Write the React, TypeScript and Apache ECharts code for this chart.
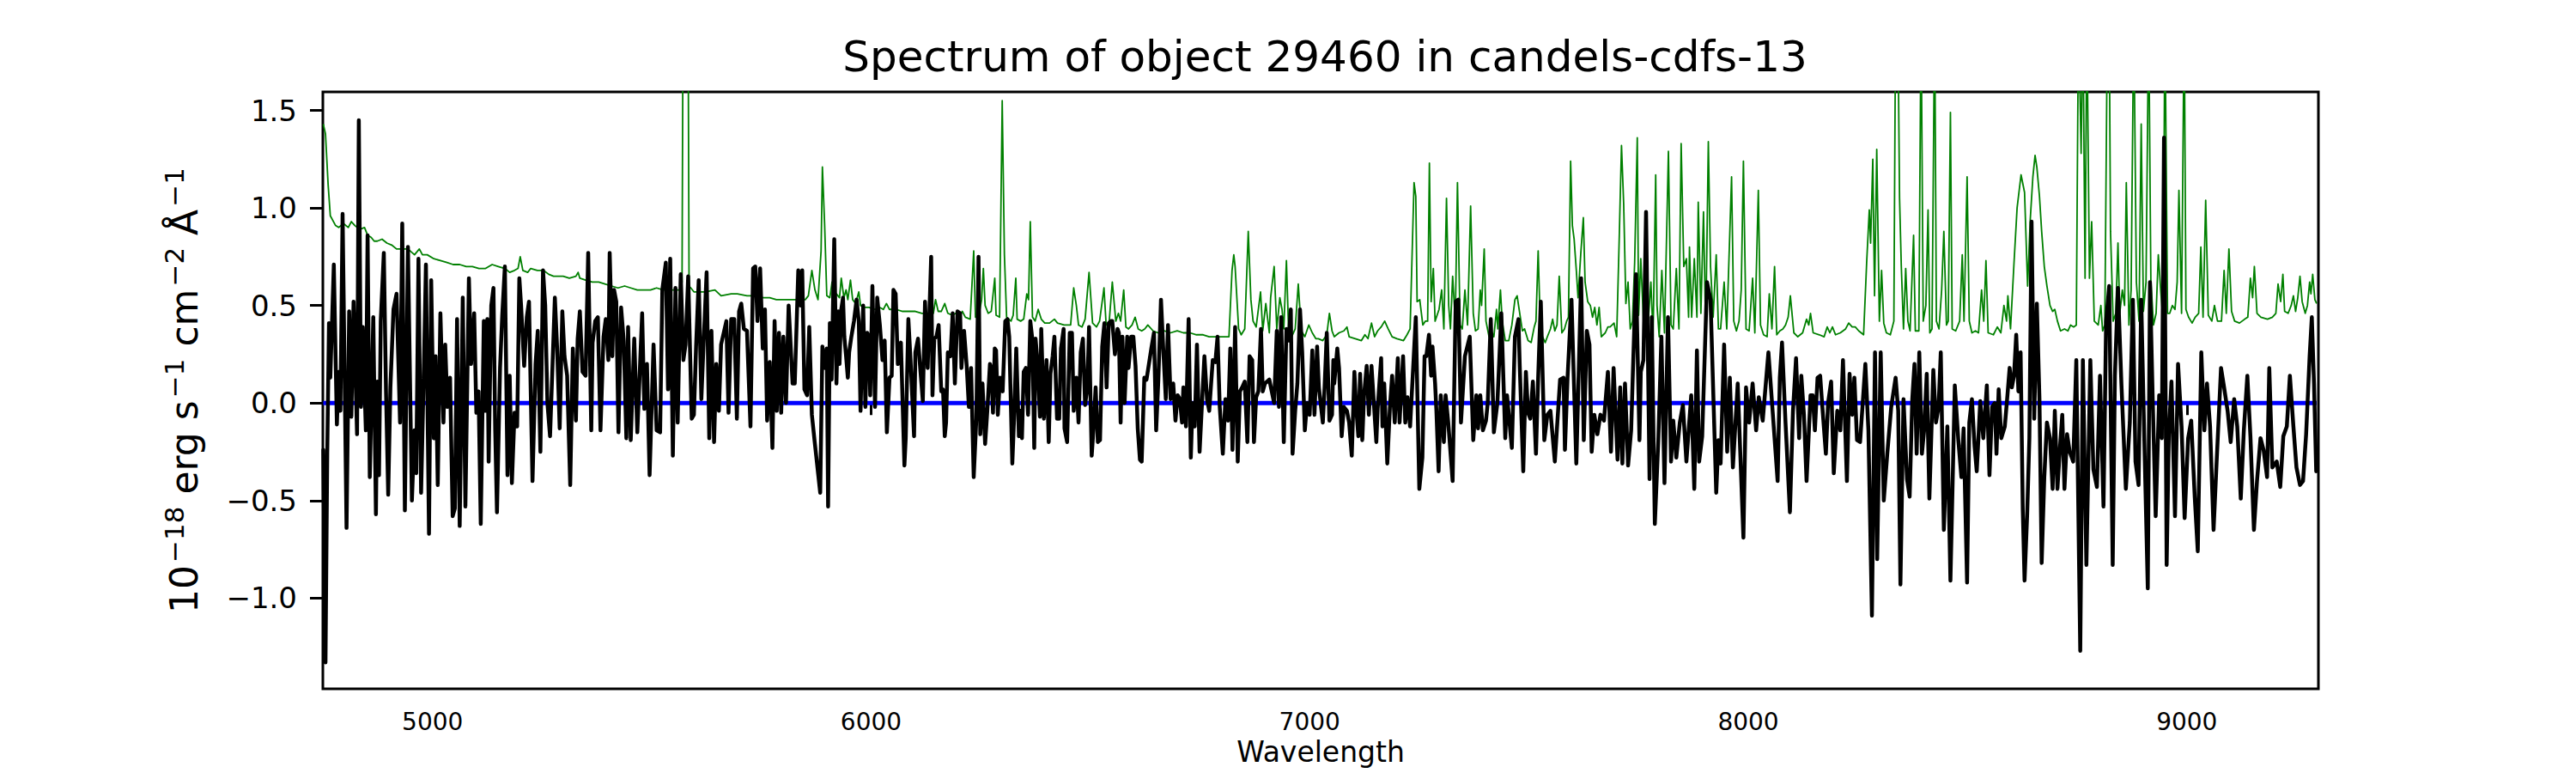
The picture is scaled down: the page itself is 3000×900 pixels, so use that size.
import React, { useEffect, useRef } from "react";
import * as echarts from "echarts";

const titleText = "Spectrum of object 29460 in candels-cdfs-13";
const xName = "Wavelength";
const yNameParts = ["10", "\u221218", " erg s", "\u22121", " cm", "\u22122", " \u00C5", "\u22121"];
const xTicks = [5000, 6000, 7000, 8000, 9000];
const yTicks = [-1.0, -0.5, 0.0, 0.5, 1.0, 1.5];
const xRange = [4750, 9300];
const yRange = [-1.465, 1.595];
const zeroLevel: [number, number][] = [[4751, 0], [9296, 0]];

const fluxA: [number, number][] = [
[4751,-0.24],[4756,-1.33],[4760,-0.26],[4764,0.41],[4767,0.13],[4775,0.71],[4782,-0.11],[4786,0.16],[4790,-0.04],[4795,0.97],[4804,-0.64],[4810,0.47],[4815,-0.07],[4820,0.52],[4828,-0.16],[4832,1.45],[4837,-0.02],[4841,0.39],[4848,-0.14],[4852,0.86],[4857,-0.38],[4865,0.44],[4871,-0.57],[4874,0.11],[4878,-0.37],[4882,0.42],[4889,0.77],[4894,0.06],[4899,-0.47],[4904,0.08],[4911,0.48],[4918,0.56],[4926,-0.10],[4931,0.92],[4937,-0.55],[4944,0.80],[4953,-0.50],[4959,-0.14],[4963,-0.36],[4968,0.74],[4974,-0.46],[4980,0.14],[4985,0.71],[4992,-0.67],[4997,0.63],[5003,-0.18],[5007,0.24],[5012,-0.42],[5018,0.46],[5025,-0.10],[5029,0.30],[5034,-0.02],[5040,0.13],[5046,-0.58],[5051,-0.54],[5056,0.43],[5062,-0.63],[5069,0.54],[5075,-0.53],[5083,0.64],[5088,0.20],[5095,0.46],[5100,-0.05],[5105,0.06],[5110,-0.62],[5117,0.42],[5121,-0.04],[5125,0.43],[5128,-0.30],[5134,0.50],[5139,0.59],[5143,-0.14],[5147,-0.56],[5154,0.18],[5159,0.45],[5165,0.70],[5171,-0.37],[5176,0.14],[5181,-0.41],[5187,-0.05],[5193,-0.12],[5198,0.64],[5202,0.50],[5209,0.19],[5215,0.44],[5220,0.52],[5228,-0.40],[5235,0.20],[5240,0.37],[5246,-0.25],[5252,0.68],[5257,0.50],[5262,0.00],[5268,-0.17],[5279,0.54],[5284,0.29],[5290,-0.13],[5296,0.47],[5301,0.24],[5307,0.14],[5314,-0.42],[5320,0.28],[5327,-0.09],[5331,0.33],[5336,0.47],[5342,0.16],[5349,0.14],[5355,0.77],[5362,-0.14],[5365,0.31],[5371,0.42],[5377,0.44],[5383,-0.14],[5390,0.34],[5395,0.43],[5401,0.22],[5404,0.77],[5410,0.24],[5414,0.58],[5419,0.52],[5424,-0.15],[5430,0.49],[5436,0.32],[5442,-0.18],[5446,0.39],[5452,-0.19],[5460,0.33],[5467,-0.15],[5478,0.46],[5483,-0.03],[5489,0.20],[5495,-0.37],[5504,0.30],[5511,-0.14],[5519,-0.15],[5524,0.58],[5532,0.72],[5537,0.07],[5542,0.74],[5548,-0.27],[5554,0.59],[5559,-0.10],[5566,0.66],[5572,0.22],[5577,0.30],[5583,0.65],[5591,-0.08],[5596,-0.06],[5601,0.29],[5607,0.63],[5613,0.02],[5618,0.30],[5625,0.67],[5631,-0.18],[5636,0.37],[5642,-0.20],[5647,0.20],[5653,-0.04],[5658,0.30],[5670,0.42],[5675,-0.05],[5681,0.43],[5688,0.43],[5694,-0.08],[5699,0.47],[5704,0.51],[5710,0.38],[5717,0.37],[5725,-0.12],[5731,0.69],[5736,0.70],[5741,0.42],[5747,0.69],[5753,0.28],[5758,0.48],[5763,-0.09],[5769,0.21],[5775,-0.23],[5780,0.42],[5785,-0.04],[5790,0.36],[5795,-0.05],[5800,0.34],[5806,0.00],[5812,0.50],[5821,0.10],[5826,0.10],[5834,0.68],[5839,0.50],[5843,0.68],[5848,0.07],[5854,0.04],[5859,0.39],[5865,-0.06],[5871,-0.19]
];
const fluxB: [number, number][] = [
[5884,-0.46],[5889,0.29],[5895,0.18],[5899,0.28],[5902,-0.53],[5906,0.41],[5910,0.12],[5916,0.84],[5921,0.10],[5925,0.47],[5928,0.20],[5932,0.48],[5936,0.54],[5939,0.34],[5943,0.24],[5947,0.13],[5950,0.26],[5955,0.34],[5961,0.42],[5967,0.53],[5972,0.42],[5976,-0.04],[5982,0.50],[5987,-0.02],[5991,0.36],[5995,0.34],[5998,0.04],[6003,0.60],[6009,-0.02],[6014,0.54],[6020,0.40],[6026,0.22],[6031,0.32],[6036,-0.15],[6042,0.13],[6047,0.14],[6051,0.58],[6056,0.56],[6061,0.20],[6068,0.31],[6076,-0.32],[6079,-0.18],[6085,0.43],[6090,0.22],[6098,-0.17],[6101,0.26],[6107,0.33],[6112,0.18],[6118,0.01],[6123,0.52],[6129,0.18],[6137,0.75],[6140,0.04],[6144,0.33],[6149,0.34],[6154,0.40],[6160,0.06],[6164,0.07],[6168,-0.17],[6171,-0.10],[6175,0.26],[6181,0.24],[6186,0.46],[6191,0.10],[6197,0.47],[6203,0.46],[6206,0.18],[6212,0.37],[6218,0.19],[6223,-0.02],[6228,0.18],[6234,-0.38],[6240,-0.08],[6245,0.75],[6249,-0.16],[6254,0.10],[6260,-0.21],[6265,-0.04],[6271,0.20],[6274,0.18],[6278,-0.05],[6282,0.28],[6285,0.27],[6289,-0.06],[6294,0.13],[6300,0.06],[6306,0.42],[6311,0.43],[6315,0.34],[6322,-0.31],[6326,-0.08],[6331,0.28],[6337,-0.17],[6341,-0.04],[6344,-0.18],[6348,0.16],[6353,0.18],[6358,-0.06],[6363,0.42],[6368,0.32],[6372,-0.23],[6375,0.33],[6380,0.20],[6385,-0.07],[6388,0.38],[6394,-0.08],[6400,0.22],[6405,-0.20],[6409,0.15],[6414,0.24],[6418,0.34],[6424,-0.08],[6429,-0.08],[6433,0.28],[6439,0.38],[6441,-0.13],[6447,-0.20],[6453,0.36],[6458,0.36],[6462,-0.04],[6468,0.13],[6473,-0.10],[6478,0.26],[6483,0.33],[6488,-0.01],[6493,0.08],[6497,0.39],[6503,-0.27],[6506,-0.17],[6512,0.08],[6517,-0.20],[6522,-0.19],[6527,0.29],[6532,0.41],[6537,0.08],[6542,0.41],[6547,0.42],[6550,0.42],[6556,0.25],[6562,0.38],[6565,0.36],[6569,-0.10],[6573,0.34],[6578,0.00],[6584,0.34],[6587,0.18],[6593,0.34],[6598,0.34],[6603,0.19],[6608,-0.13],[6613,-0.29],[6617,-0.30],[6623,0.13],[6628,0.12],[6639,0.28],[6645,0.36],[6650,-0.14],[6655,0.12],[6661,0.53],[6667,0.24],[6672,0.02],[6677,0.40],[6683,0.02],[6689,0.10],[6694,-0.09],[6699,0.04],[6704,0.02],[6709,-0.10],[6712,0.08],[6718,-0.12],[6724,0.43],[6729,-0.28],[6733,0.00],[6738,-0.12],[6743,0.30],[6749,-0.25],[6755,0.02],[6760,0.24],[6766,0.02],[6771,-0.04],[6779,0.22],[6785,0.21],[6790,0.34],[6795,-0.02],[6802,-0.26],[6808,0.02],[6814,-0.09],[6819,0.28],[6824,-0.24],[6830,0.39],[6836,-0.30],[6841,0.06],[6846,0.08],[6852,0.11],[6858,-0.20],[6863,0.24],[6869,0.22],[6873,-0.20],[6878,0.03],[6883,0.06],[6889,0.38],[6893,0.06],[6898,0.10],[6908,0.12],[6919,0.00],[6925,0.37],[6930,-0.02],[6935,0.44],[6941,-0.20],[6947,0.38],[6952,0.32],[6957,0.48],[6961,-0.26],[6967,-0.04],[6972,0.10],[6978,0.48],[6983,0.26],[6989,-0.14],[6994,0.00],[7000,-0.06],[7006,0.27],[7011,-0.06]
];
const fluxC: [number, number][] = [
[7017,0.29],[7021,0.08],[7030,-0.10],[7034,0.08],[7039,0.36],[7045,-0.09],[7051,-0.06],[7054,0.22],[7056,0.10],[7063,0.28],[7067,0.18],[7073,-0.17],[7078,-0.02],[7085,-0.04],[7090,-0.10],[7096,-0.27],[7102,0.16],[7106,-0.02],[7111,-0.17],[7115,0.15],[7120,-0.19],[7124,0.04],[7130,0.19],[7135,-0.06],[7141,0.19],[7152,-0.20],[7155,-0.03],[7163,0.23],[7166,-0.12],[7170,0.10],[7177,-0.31],[7183,-0.02],[7188,0.14],[7194,-0.10],[7201,0.23],[7205,-0.10],[7213,0.24],[7218,-0.10],[7223,0.03],[7229,-0.12],[7242,0.44],[7250,-0.44],[7257,-0.28],[7262,0.24],[7266,0.24],[7272,0.35],[7277,0.14],[7280,0.29],[7286,0.10],[7289,-0.04],[7294,-0.35],[7299,0.04],[7306,-0.20],[7310,0.04],[7316,-0.10],[7326,-0.40],[7333,0.52],[7339,0.53],[7345,-0.10],[7354,0.24],[7365,0.34],[7373,-0.19],[7380,0.04],[7384,-0.13],[7389,0.04],[7395,-0.14],[7402,-0.09],[7406,0.00],[7413,0.43],[7420,-0.15],[7428,0.00],[7437,0.46],[7446,-0.18],[7450,0.04],[7461,-0.23],[7468,0.34],[7476,0.43],[7479,0.19],[7487,-0.35],[7493,0.16],[7498,-0.05],[7503,-0.08],[7509,0.11],[7516,-0.26],[7521,0.13],[7527,0.52],[7535,-0.19],[7542,-0.06],[7549,-0.04],[7559,-0.30],[7571,0.12],[7579,0.13],[7582,-0.24],[7588,0.13],[7597,0.53],[7608,-0.31],[7619,0.64],[7625,-0.19],[7632,0.37],[7638,0.30],[7643,-0.25],[7649,-0.06],[7656,-0.16],[7663,-0.06],[7671,-0.09],[7680,0.16],[7687,-0.25],[7693,0.18],[7702,-0.29],[7708,0.08],[7713,-0.31],[7719,0.10],[7726,-0.32],[7733,-0.14],[7737,0.16],[7744,0.66],[7752,-0.19],[7755,0.16],[7761,0.22],[7767,0.98],[7775,-0.39],[7780,0.44],[7787,-0.62],[7795,-0.19],[7802,0.34],[7809,-0.41],[7817,0.44],[7824,-0.30],[7829,-0.09],[7836,-0.28],[7844,-0.10],[7851,-0.01],[7859,-0.30],[7870,0.04],[7877,-0.44],[7883,0.27],[7888,-0.30],[7895,-0.17],[7906,0.62],[7914,0.53],[7927,-0.46],[7932,-0.19],[7937,-0.31],[7945,0.30],[7952,-0.25],[7958,0.13],[7965,-0.33],[7976,0.10],[7989,-0.69],[7995,0.08],[8002,-0.10],[8010,0.10],[8018,-0.14],[8024,0.03],[8033,-0.09],[8046,0.26],[8067,-0.40],[8072,0.13],[8077,0.31],[8085,-0.10],[8095,-0.56],[8102,-0.04],[8109,0.23],[8116,-0.18],[8121,0.14],[8127,-0.06],[8133,-0.40],[8142,0.04]
];
const fluxD: [number, number][] = [
[8147,0.04],[8152,-0.14],[8158,0.13],[8164,0.14],[8169,-0.02],[8177,-0.26],[8182,0.00],[8189,0.11],[8195,-0.36],[8203,-0.04],[8210,-0.14],[8216,0.22],[8225,-0.40],[8231,0.15],[8237,-0.06],[8242,0.13],[8248,-0.19],[8255,-0.20],[8267,0.20],[8274,-0.14],[8282,-1.09],[8289,0.26],[8294,-0.80],[8302,0.26],[8309,-0.50],[8317,-0.26],[8326,-0.02],[8336,0.13],[8342,-0.04],[8347,-0.93],[8354,0.02],[8362,-0.39],[8368,-0.48],[8374,0.02],[8379,0.20],[8384,-0.26],[8390,0.26],[8396,-0.26],[8401,-0.14],[8407,0.15],[8413,-0.49],[8422,0.17],[8428,-0.10],[8434,-0.02],[8439,0.26],[8446,-0.65],[8454,-0.12],[8461,-0.91],[8471,0.09],[8479,-0.19],[8486,-0.38],[8491,-0.13],[8499,-0.92],[8504,-0.10],[8510,0.02],[8516,-0.22],[8521,-0.35],[8529,0.01],[8536,-0.18],[8544,0.09],[8550,-0.37],[8556,-0.02],[8562,0.00],[8566,-0.26],[8571,0.07],[8577,-0.18],[8585,-0.12],[8591,0.04],[8596,0.18],[8601,0.08],[8606,0.14],[8611,0.35],[8616,0.06],[8621,0.26],[8626,-0.55],[8630,-0.91],[8636,-0.57],[8641,-0.18],[8646,0.93],[8652,-0.08],[8658,0.51],[8664,0.02],[8669,-0.82],[8675,-0.38],[8681,-0.10],[8688,-0.18],[8694,-0.44],[8699,-0.04],[8705,-0.44],[8711,-0.22],[8716,-0.06],[8721,-0.44],[8727,-0.16],[8733,-0.25],[8741,-0.30],[8748,0.22],[8757,-1.27],[8763,0.22],[8771,-0.83],[8780,0.22],[8787,-0.34],[8795,-0.43],[8802,0.14],[8810,-0.53],[8816,0.42],[8823,0.60],[8831,-0.83],[8836,0.14],[8843,0.59],[8851,0.09],[8861,-0.44],[8870,-0.10],[8877,0.53],[8883,-0.30],[8890,-0.42],[8896,0.53],[8903,-0.18],[8911,-0.95],[8916,0.62],[8922,0.04],[8929,-0.58],[8937,0.04],[8943,-0.18],[8948,1.36],[8954,-0.83],[8959,-0.16],[8965,0.11],[8973,-0.58],[8980,0.20],[8988,-0.12],[8995,-0.59],[9003,-0.18],[9010,-0.09],[9018,-0.48],[9025,-0.76],[9033,0.26],[9040,-0.14],[9046,0.10],[9053,-0.12],[9061,-0.65],[9068,-0.30],[9078,0.18],[9085,0.08],[9093,-0.04],[9100,-0.20],[9108,0.02],[9115,-0.12],[9123,-0.49],[9130,-0.14],[9138,0.14],[9145,-0.17],[9153,-0.65],[9160,-0.40],[9168,-0.18],[9175,-0.24],[9183,-0.38],[9188,0.18],[9195,-0.33],[9205,-0.30],[9213,-0.43],[9220,-0.17],[9228,-0.12],[9235,0.14],[9243,-0.12],[9250,-0.33],[9258,-0.42],[9265,-0.40],[9272,-0.16],[9280,0.24],[9285,0.44],[9290,0.10],[9295,-0.35]
];

// noise / sky spectrum (green): [wavelength, flux]
const noiseA: [number, number][] = [
[4751,1.43],[4756,1.38],[4762,1.12],[4767,0.96],[4779,0.91],[4786,0.90],[4797,0.92],[4808,0.90],[4815,0.93],[4823,0.91],[4834,0.89],[4845,0.90],[4852,0.86],[4860,0.85],[4867,0.83],[4874,0.83],[4885,0.84],[4896,0.82],[4907,0.81],[4918,0.79],[4929,0.79],[4944,0.79],[4959,0.76],[4970,0.79],[4977,0.76],[4988,0.76],[5003,0.74],[5018,0.73],[5033,0.72],[5047,0.71],[5062,0.71],[5077,0.70],[5091,0.70],[5106,0.69],[5121,0.69],[5136,0.71],[5150,0.70],[5165,0.69],[5176,0.67],[5187,0.68],[5195,0.69],[5200,0.75],[5206,0.68],[5217,0.67],[5224,0.69],[5239,0.68],[5253,0.68],[5265,0.66],[5276,0.65],[5298,0.65],[5312,0.64],[5327,0.65],[5332,0.67],[5336,0.64],[5349,0.63],[5364,0.62],[5379,0.62],[5393,0.61],[5408,0.60],[5423,0.59],[5438,0.60],[5452,0.59],[5467,0.58],[5482,0.58],[5497,0.58],[5511,0.59],[5526,0.58],[5541,0.58],[5555,0.58],[5564,0.58],[5569,0.62],[5572,2.5],[5582,2.5],[5585,0.60],[5589,0.59],[5596,0.57],[5607,0.57],[5622,0.57],[5644,0.58],[5658,0.55],[5681,0.56],[5695,0.56],[5717,0.55],[5739,0.55],[5754,0.54],[5769,0.54],[5784,0.53],[5806,0.53],[5828,0.53],[5850,0.53],[5857,0.55],[5865,0.68],[5872,0.58],[5879,0.53]
];
const noiseB: [number, number][] = [
[5886,0.78],[5889,1.21],[5894,0.92],[5899,0.55],[5906,0.54],[5911,0.62],[5916,0.53],[5921,0.56],[5928,0.54],[5932,0.64],[5938,0.54],[5943,0.58],[5947,0.53],[5953,0.63],[5958,0.53],[5965,0.51],[5972,0.57],[5976,0.50],[5983,0.49],[5995,0.49],[6009,0.48],[6020,0.49],[6028,0.48],[6035,0.51],[6042,0.48],[6057,0.48],[6072,0.47],[6087,0.47],[6101,0.47],[6116,0.46],[6131,0.46],[6137,0.51],[6142,0.46],[6147,0.53],[6153,0.47],[6160,0.47],[6168,0.51],[6175,0.46],[6186,0.45],[6193,0.46],[6201,0.44],[6208,0.47],[6215,0.44],[6226,0.43],[6234,0.78],[6238,0.44],[6245,0.44],[6252,0.53],[6256,0.69],[6260,0.50],[6267,0.46],[6274,0.47],[6282,0.64],[6285,0.45],[6293,0.44],[6299,1.55],[6304,0.76],[6309,0.44],[6319,0.42],[6324,0.45],[6330,0.64],[6333,0.43],[6341,0.42],[6348,0.43],[6355,0.56],[6359,0.53],[6363,0.93],[6368,0.44],[6374,0.42],[6381,0.48],[6388,0.43],[6396,0.41],[6407,0.41],[6418,0.43],[6425,0.41],[6440,0.40],[6455,0.40],[6462,0.59],[6468,0.50],[6473,0.40],[6481,0.39],[6488,0.43],[6497,0.67],[6505,0.41],[6514,0.39],[6521,0.42],[6531,0.59],[6536,0.40],[6543,0.42],[6550,0.62],[6558,0.42],[6564,0.46],[6569,0.42],[6576,0.58],[6581,0.39],[6587,0.38],[6595,0.40],[6602,0.44],[6609,0.38],[6617,0.37],[6624,0.38],[6631,0.40],[6643,0.37],[6654,0.36],[6668,0.37],[6683,0.36],[6698,0.37],[6712,0.36],[6727,0.36],[6742,0.35],[6757,0.35],[6771,0.34],[6786,0.34],[6801,0.34],[6816,0.34],[6823,0.68],[6827,0.76],[6830,0.70],[6838,0.38],[6844,0.35],[6852,0.38],[6860,0.88],[6866,0.53],[6871,0.42],[6878,0.39],[6888,0.57],[6893,0.37],[6900,0.51],[6908,0.36],[6911,0.54],[6919,0.70],[6925,0.38],[6932,0.54],[6937,0.48],[6941,0.38],[6947,0.73],[6952,0.37],[6959,0.34],[6967,0.38],[6974,0.61],[6981,0.37],[6989,0.34],[6998,0.40],[7006,0.36],[7014,0.33]
];
const noiseC: [number, number][] = [
[7020,0.33],[7030,0.32],[7039,0.35],[7045,0.46],[7051,0.37],[7056,0.34],[7067,0.36],[7078,0.37],[7085,0.39],[7090,0.34],[7104,0.33],[7118,0.32],[7126,0.35],[7133,0.33],[7141,0.41],[7148,0.34],[7155,0.37],[7163,0.39],[7171,0.42],[7179,0.38],[7188,0.34],[7199,0.33],[7214,0.32],[7222,0.35],[7229,0.38],[7238,1.13],[7242,1.06],[7245,0.52],[7251,0.53],[7258,0.40],[7264,0.42],[7269,0.42],[7273,1.23],[7277,0.52],[7282,0.69],[7286,0.42],[7295,0.48],[7301,0.58],[7306,0.38],[7312,1.05],[7317,0.50],[7321,0.38],[7326,0.65],[7332,0.42],[7337,1.13],[7343,0.40],[7348,0.38],[7354,0.58],[7360,0.40],[7367,1.01],[7373,0.46],[7378,0.37],[7384,0.38],[7389,0.58],[7392,0.50],[7398,0.79],[7402,0.42],[7409,0.34],[7414,0.37],[7420,0.34],[7426,0.48],[7429,0.38],[7435,0.58],[7439,0.42],[7446,0.32],[7454,0.32],[7461,0.40],[7468,0.53],[7473,0.55],[7479,0.46],[7485,0.37],[7490,0.38],[7498,0.32],[7505,0.31],[7512,0.39],[7516,0.42],[7521,0.78],[7526,0.38],[7531,0.34],[7537,0.31],[7542,0.34],[7549,0.38],[7554,0.43],[7559,0.37],[7564,0.40],[7569,0.65],[7575,0.36],[7581,0.38],[7586,0.42],[7590,0.44],[7595,1.24],[7599,0.91],[7603,0.84],[7608,0.68],[7612,0.54],[7618,0.76],[7624,0.95],[7628,0.62],[7634,0.52],[7640,0.50],[7645,0.44],[7650,0.49],[7655,0.40],[7660,0.49],[7665,0.34],[7674,0.36],[7680,0.39],[7685,0.39],[7694,0.41],[7700,0.34],[7706,0.86],[7711,1.32],[7716,1.02],[7721,0.51],[7726,0.62],[7731,0.38],[7736,0.42],[7741,0.72],[7747,1.36],[7750,0.45],[7755,0.74],[7761,0.42],[7767,0.54],[7772,0.42],[7778,0.62],[7783,0.34],[7789,1.17],[7792,0.50],[7797,0.34],[7803,0.68],[7809,0.36],[7818,1.29],[7824,0.40],[7829,0.38],[7836,0.69],[7842,0.38],[7847,1.33],[7853,0.70],[7859,0.74],[7864,0.44],[7866,0.80],[7871,0.44],[7877,0.74],[7883,0.44],[7886,1.03],[7892,0.46],[7898,0.98],[7903,0.37],[7909,1.34],[7914,0.70],[7920,0.44],[7927,0.76],[7932,0.38],[7937,0.38],[7945,0.62],[7951,0.38],[7962,1.16],[7967,0.42],[7973,0.37],[7979,0.42],[7984,0.58],[7989,1.24],[7995,0.38],[8002,0.37],[8010,0.64],[8015,0.36],[8023,1.09],[8028,0.40],[8035,0.35],[8043,0.34],[8048,0.56],[8054,0.38],[8060,0.70],[8065,0.35],[8072,0.37],[8079,0.38],[8085,0.40],[8091,0.44],[8096,0.55],[8104,0.36],[8113,0.34],[8124,0.36],[8133,0.43],[8138,0.40],[8142,0.46],[8148,0.36]
];
const noiseD: [number, number][] = [
[8162,0.35],[8173,0.34],[8180,0.39],[8186,0.36],[8192,0.39],[8199,0.35],[8210,0.36],[8222,0.38],[8229,0.41],[8237,0.39],[8244,0.39],[8252,0.37],[8263,0.35],[8270,0.72],[8276,0.99],[8279,0.82],[8284,1.25],[8288,0.55],[8293,1.30],[8299,0.42],[8304,0.68],[8309,0.41],[8315,0.36],[8324,0.35],[8332,0.42],[8336,2.0],[8341,2.0],[8345,1.05],[8349,0.70],[8354,0.38],[8359,0.69],[8364,0.42],[8369,0.37],[8377,0.86],[8381,0.37],[8389,0.37],[8394,2.0],[8399,0.42],[8405,0.50],[8410,0.99],[8414,0.36],[8419,0.38],[8425,2.0],[8429,0.42],[8435,0.38],[8441,0.58],[8446,0.88],[8452,0.40],[8456,0.42],[8461,1.49],[8465,0.38],[8473,0.37],[8482,0.42],[8488,0.76],[8492,0.42],[8499,1.16],[8504,0.42],[8510,0.36],[8518,0.37],[8525,0.36],[8532,0.58],[8537,0.42],[8542,0.73],[8547,0.36],[8559,0.35],[8568,0.39],[8576,0.36],[8583,0.50],[8589,0.42],[8592,0.55],[8598,0.38],[8606,0.72],[8613,1.00],[8622,1.17],[8630,1.08],[8637,0.60],[8643,0.94],[8649,1.16],[8654,1.27],[8658,1.21],[8664,1.06],[8669,0.88],[8675,0.70],[8681,0.60],[8688,0.50],[8694,0.47],[8699,0.48],[8705,0.42],[8712,0.37],[8721,0.38],[8729,0.37],[8735,0.40],[8742,0.39],[8748,0.40],[8753,2.0],[8759,1.28],[8763,2.0],[8768,0.64],[8772,2.0],[8778,0.64],[8783,0.93],[8789,0.42],[8798,0.40],[8804,0.50],[8808,0.37],[8813,0.40],[8819,2.0],[8823,2.0],[8826,0.88],[8832,0.42],[8838,0.46],[8843,0.82],[8847,0.46],[8853,0.58],[8858,0.50],[8862,1.13],[8868,0.40],[8873,0.58],[8879,2.0],[8885,0.62],[8891,0.42],[8896,1.43],[8901,0.47],[8907,0.62],[8913,2.0],[8918,0.63],[8924,0.40],[8930,0.46],[8935,0.76],[8941,0.56],[8946,0.42],[8950,2.0],[8956,0.46],[8961,0.46],[8967,0.50],[8973,0.48],[8978,0.62],[8982,1.09],[8988,0.46],[8994,2.0],[8998,0.48],[9004,0.44],[9012,0.41],[9019,0.44],[9027,0.46],[9032,0.80],[9037,0.44],[9043,1.04],[9049,0.45],[9057,0.42],[9063,0.50],[9070,0.42],[9079,0.42],[9085,0.68],[9090,0.46],[9096,0.79],[9102,0.47],[9109,0.42],[9120,0.41],[9132,0.43],[9139,0.44],[9145,0.64],[9150,0.54],[9154,0.70],[9160,0.46],[9169,0.44],[9184,0.43],[9195,0.44],[9203,0.46],[9208,0.61],[9214,0.52],[9219,0.66],[9223,0.47],[9231,0.46],[9238,0.50],[9243,0.55],[9248,0.47],[9253,0.54],[9258,0.65],[9263,0.52],[9270,0.46],[9275,0.50],[9280,0.62],[9283,0.56],[9287,0.66],[9292,0.53],[9296,0.51]
];

const FONT = "DejaVu Sans";

export default function App() {
  const ref = useRef<HTMLDivElement>(null);
  useEffect(() => {
    document.body.style.margin = "0";
    const chart = echarts.init(ref.current!, null, { renderer: "svg" });
    const flux = [...fluxA, ...fluxB, ...fluxC, ...fluxD];
    const noise = [...noiseA, ...noiseB, ...noiseC, ...noiseD];
    // rich-text y label: base text and superscripts alternate
    const yName = yNameParts
      .map((p, i) => (i % 2 === 0 ? `{b|${p}}` : `{s|${p}}`))
      .join("");
    chart.setOption({
      animation: false,
      backgroundColor: "#ffffff",
      title: {
        text: titleText,
        left: 1538,
        textAlign: "center",
        top: 36,
        textStyle: { fontFamily: FONT, fontSize: 50, fontWeight: "normal", color: "#000" },
      },
      grid: {
        left: 376,
        right: 300,
        top: 107,
        bottom: 98,
        show: true,
        borderColor: "#000",
        borderWidth: 3,
        backgroundColor: "transparent",
        containLabel: false,
        outerBoundsMode: "none",
      },
      xAxis: {
        type: "value",
        min: xRange[0],
        max: xRange[1],
        name: xName,
        nameLocation: "middle",
        nameGap: 54,
        nameTextStyle: { fontFamily: FONT, fontSize: 33, color: "#000" },
        axisLine: { show: false },
        splitLine: { show: false },
        axisTick: {
          show: true,
          inside: false,
          length: 14,
          customValues: xTicks,
          lineStyle: { color: "#000", width: 3 },
        },
        axisLabel: {
          customValues: xTicks,
          fontFamily: FONT,
          fontSize: 28,
          color: "#000",
          margin: 24,
          formatter: (v: number) => String(v),
        },
      },
      yAxis: {
        type: "value",
        min: yRange[0],
        max: yRange[1],
        name: yName,
        nameLocation: "middle",
        nameRotate: 90,
        nameGap: 140,
        nameTextStyle: {
          fontFamily: FONT,
          fontSize: 44,
          color: "#000",
          rich: {
            b: { fontFamily: FONT, fontSize: 44, color: "#000", lineHeight: 49, verticalAlign: "bottom" },
            s: { fontFamily: FONT, fontSize: 31, color: "#000", lineHeight: 31, verticalAlign: "top", padding: [0, 0, 0, 3] },
          },
        },
        axisLine: { show: false },
        splitLine: { show: false },
        axisTick: {
          show: true,
          inside: false,
          length: 15,
          customValues: yTicks,
          lineStyle: { color: "#000", width: 3 },
        },
        axisLabel: {
          customValues: yTicks,
          fontFamily: FONT,
          fontSize: 34,
          color: "#000",
          margin: 30,
          formatter: (v: number) => v.toFixed(1).replace("-", "\u2212"),
        },
      },
      series: [
        {
          name: "noise",
          type: "line",
          data: noise,
          symbol: "none",
          showSymbol: false,
          clip: true,
          silent: true,
          z: 1,
          lineStyle: { color: "#008000", width: 1.8, join: "round" },
        },
        {
          name: "zero",
          type: "line",
          data: zeroLevel,
          symbol: "none",
          showSymbol: false,
          clip: true,
          silent: true,
          z: 2,
          lineStyle: { color: "#0000ff", width: 5 },
        },
        {
          name: "flux",
          type: "line",
          data: flux,
          symbol: "none",
          showSymbol: false,
          clip: true,
          silent: true,
          z: 3,
          lineStyle: { color: "#000000", width: 4.5, join: "round", cap: "round" },
        },
      ],
    });
    return () => chart.dispose();
  }, []);
  return <div ref={ref} style={{ width: 3000, height: 900 }} />;
}
